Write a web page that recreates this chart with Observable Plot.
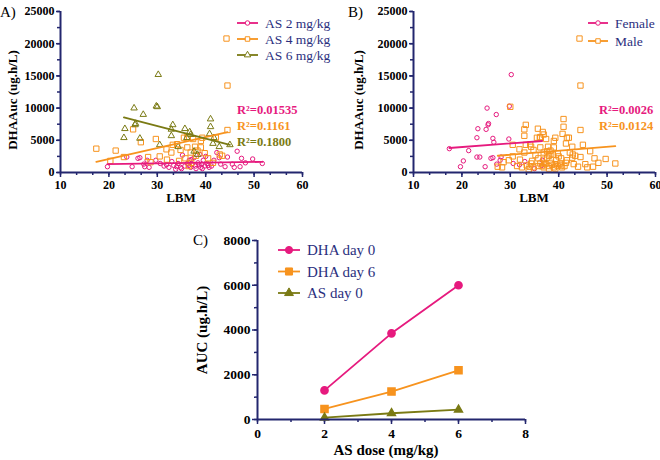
<!DOCTYPE html>
<html><head><meta charset="utf-8">
<script src="https://cdn.jsdelivr.net/npm/d3@7"></script>
<script src="https://cdn.jsdelivr.net/npm/@observablehq/plot@0.6"></script>
<style>
body{margin:0;background:#fff;}
#fig{position:relative;width:660px;height:460px;overflow:hidden;background:#fff;}
.panel{position:absolute;}
.panel svg{overflow:visible;}
</style></head><body><div id="fig"></div>
<script>
const PINK = "#e61a7e", ORANGE = "#f7931e", OLIVE = "#7a7a14", NAVY = "#23266e", LEG = "#2b2f7e";
const SERIF = '"Liberation Serif","Times New Roman",serif';

// ---- Panels A & B: [LBM, DHA AUC (ug.h/L), sex]
const as2mgkg = [
  [19.7,900,"F"],[23.7,2400,"F"],[24.8,900,"F"],[26.0,2200,"F"],[26.4,2300,"F"],[27.2,1300,"F"],
  [27.9,1900,"F"],[27.4,900,"M"],[28.3,800,"M"],[29.7,1900,"M"],[30.6,1400,"F"],[31.4,1000,"M"],
  [31.9,1200,"F"],[32.4,800,"M"],[33.0,1700,"F"],[33.4,1100,"M"],[33.8,500,"M"],[34.0,900,"M"],
  [34.3,1400,"M"],[34.8,800,"M"],[35.0,600,"F"],[35.2,2700,"M"],[35.7,1000,"M"],[36.2,1400,"M"],
  [36.5,1100,"F"],[36.6,1900,"F"],[36.9,800,"M"],[37.0,2000,"M"],[37.2,1300,"M"],[37.6,2300,"M"],
  [37.9,1000,"M"],[38.0,600,"M"],[38.4,1500,"M"],[38.6,1200,"M"],[38.8,2800,"M"],[39.0,800,"M"],
  [39.2,1300,"M"],[39.3,600,"M"],[39.5,1900,"M"],[39.8,1000,"M"],[40.0,2500,"M"],[40.3,1400,"M"],
  [40.5,1100,"M"],[40.7,800,"M"],[41.2,1000,"M"],[41.7,1900,"M"],[42.3,3100,"M"],[42.8,2300,"M"],
  [43.1,1300,"M"],[44.0,900,"M"],[44.5,2400,"M"],[45.5,1300,"M"],[45.9,800,"M"],[46.5,3300,"M"],
  [47.1,900,"M"],[47.4,2200,"M"],[48.2,1500,"M"],[49.7,2100,"M"],[51.7,1400,"M"]
];
const as4mgkg = [
  [17.4,3700,"F"],[20.3,1800,"F"],[21.4,3400,"F"],[23.1,2400,"F"],[25.0,6700,"F"],[26.6,4700,"F"],
  [28.1,2400,"F"],[28.6,1600,"M"],[29.7,5200,"F"],[30.5,2500,"M"],[31.9,3600,"M"],[32.0,2000,"M"],
  [32.9,3100,"M"],[33.2,4300,"M"],[34.1,4400,"M"],[34.5,1800,"M"],[34.8,3500,"M"],[35.5,5400,"M"],
  [35.8,2200,"M"],[36.2,5500,"M"],[36.2,3900,"M"],[36.5,1000,"M"],[36.9,3100,"M"],[37.0,1500,"M"],
  [37.4,5200,"M"],[37.8,4000,"M"],[38.0,2600,"M"],[38.3,3400,"M"],[39.0,4900,"M"],[39.0,3900,"M"],
  [39.3,5400,"M"],[39.8,3000,"M"],[40.5,2200,"M"],[41.5,1500,"M"],[42.1,5400,"M"],[42.9,2800,"M"],
  [43.4,2600,"M"],[44.3,20800,"M"],[44.5,13500,"M"],[44.5,6600,"M"]
];
const as6mgkg = [
  [23.1,5400,"F"],[23.3,6800,"F"],[25.2,10000,"F"],[25.4,7400,"F"],[25.5,7600,"F"],[26.4,5300,"F"],
  [27.1,9000,"F"],[29.8,10300,"F"],[30.0,10200,"M"],[30.2,15200,"F"],[30.5,4300,"M"],[32.9,5700,"M"],
  [32.9,6700,"M"],[33.2,7400,"M"],[34.3,4000,"M"],[35.7,6800,"M"],[36.1,5400,"M"],[36.7,6300,"M"],
  [36.9,5900,"M"],[37.6,3300,"M"],[38.3,2800,"M"],[40.8,6000,"M"],[41.0,7100,"M"],[41.0,8300,"M"],
  [41.5,4500,"M"],[41.7,5400,"M"],[42.8,4000,"M"],[45.0,4300,"M"]
];
const groupNames = ["AS 2 mg/kg", "AS 4 mg/kg", "AS 6 mg/kg"];
const groupSlopes = [11, 170, -194.6];
const groupIntercepts = [1083, -1308, 13045];
const groupR2 = ["0.01535", "0.1161", "0.1800"];

const sexCodes = ["F", "M"];
const sexNames = ["Female", "Male"];
const sexSlopes = [56.7, 61];
const sexIntercepts = [2819, 929];
const sexR2 = ["0.0026", "0.0124"];

const lbmTicks = [10, 20, 30, 40, 50, 60];
const aucTicks = [0, 5000, 10000, 15000, 20000, 25000];

// ---- Panel C
const doses = [2, 4, 6];
const dhaDay0 = [1300, 3850, 6000];
const dhaDay6 = [470, 1250, 2200];
const asDay0 = [80, 280, 440];
const seriesC = ["DHA day 0", "DHA day 6", "AS day 0"];
const doseTicks = [0, 2, 4, 6, 8];
const aucCTicks = [0, 2000, 4000, 6000, 8000];

// ------------------------------------------------------------------
const fig = d3.select("#fig");
const rec = (arr, g) => arr.map(([lbm, auc, sex]) => ({lbm, auc, sex, group: g}));
const pts = [...rec(as2mgkg, 0), ...rec(as4mgkg, 1), ...rec(as6mgkg, 2)];
function fitLine(data, slope, intercept) {
  const [a, b] = d3.extent(data, d => d.lbm);
  return [{lbm: a, auc: slope * a + intercept}, {lbm: b, auc: slope * b + intercept}];
}
function axisMarks(dim, major, minor, {size = 5, minorSize = 3, pad = 3, fontSize = 12} = {}) {
  const ax = dim === "x" ? Plot.axisX : Plot.axisY;
  return [
    ax({ticks: minor, tickSize: minorSize, tickFormat: () => "", stroke: NAVY, strokeWidth: 1.5, label: null}),
    ax({ticks: major, tickSize: size, tickFormat: () => "", stroke: NAVY, strokeWidth: 1.5, label: null}),
    ax({ticks: major, tickSize: 0, tickPadding: size + pad, tickFormat: d3.format("d"), fill: "black",
        fontWeight: "bold", fontSize, fontFamily: SERIF, label: null})
  ];
}
function place(svg, left, top) {
  const div = fig.append("div").attr("class", "panel").style("left", left + "px").style("top", top + "px");
  div.node().appendChild(svg);
  return d3.select(svg);
}
function legend(svg, items, x0, y0, dy, fontSize, lineLen) {
  items.forEach((it, i) => {
    const y = y0 + i * dy;
    svg.append("line").attr("x1", x0).attr("x2", x0 + lineLen).attr("y1", y).attr("y2", y)
      .attr("stroke", it.color).attr("stroke-width", 1.8);
    svg.append("path").attr("transform", `translate(${x0 + lineLen / 2},${y})`)
      .attr("d", d3.symbol(it.symbol, it.size)())
      .attr("fill", it.filled ? it.color : "white").attr("stroke", it.color).attr("stroke-width", 1);
    svg.append("text").attr("x", x0 + lineLen + 7).attr("y", y).attr("dy", "0.35em")
      .attr("text-anchor", "start")
      .attr("fill", LEG).attr("font-family", SERIF).attr("font-size", fontSize).text(it.label);
  });
}
function label(svg, x, y, txt, {size = 13, weight = "bold", color = "black", rotate = false, anchor = "middle"} = {}) {
  const t = svg.append("text").attr("font-family", SERIF).attr("font-size", size).attr("font-weight", weight)
    .attr("fill", color).attr("text-anchor", anchor).text(txt);
  if (rotate) t.attr("transform", `translate(${x},${y}) rotate(-90)`).attr("dy", "0.35em");
  else t.attr("x", x).attr("y", y);
  return t;
}
const lbmMinor = d3.range(10, 60.01, 10 / 3);
const aucMinor = d3.range(0, 25001, 2500);
const symA = ["circle", "square", "triangle"];
const rA = [2.2, 3.0, 2.4];
const colA = [PINK, ORANGE, OLIVE];

function scatterBase(marginLeft, marginRight) {
  return {
    width: 330, height: 205, marginLeft, marginRight, marginTop: 11, marginBottom: 33,
    x: {domain: [10, 60]}, y: {domain: [0, 25000]},
    style: {fontFamily: SERIF, background: "transparent", overflow: "visible"}
  };
}

// ---------------- Panel A
{
  const marks = [
    ...axisMarks("x", lbmTicks, lbmMinor),
    ...axisMarks("y", aucTicks, aucMinor, {size: 4, pad: 2})
  ];
  [0, 1, 2].forEach(g => marks.push(Plot.dot(pts.filter(d => d.group === g),
    {x: "lbm", y: "auc", symbol: symA[g], r: rA[g], stroke: colA[g], fill: "none", strokeWidth: 1})));
  [0, 1, 2].forEach(g => marks.push(Plot.line(fitLine(pts.filter(d => d.group === g), groupSlopes[g], groupIntercepts[g]),
    {x: "lbm", y: "auc", stroke: colA[g], strokeWidth: 1.8})));
  marks.push(Plot.ruleY([0], {stroke: NAVY, strokeWidth: 2}), Plot.ruleX([10], {stroke: NAVY, strokeWidth: 2}));
  const svg = place(Plot.plot({...scatterBase(60, 28), marks}), 0, 0);
  legend(svg, groupNames.map((n, g) => ({label: n, color: colA[g], symbol: [d3.symbolCircle, d3.symbolSquare, d3.symbolTriangle][g],
    size: [16, 20, 18][g], filled: false})), 237, 23, 16, 13.5, 21);
  groupR2.forEach((r, g) => label(svg, 237, 114 + g * 16, "R²=" + r, {size: 12.5, color: colA[g], anchor: "start"}));
  label(svg, 0, 17, "A)", {size: 15, weight: "normal", anchor: "start"});
  label(svg, 12, 100, "DHAAuc (ug.h/L)", {size: 13, rotate: true});
  label(svg, 181, 202, "LBM", {size: 13});
}

// ---------------- Panel B
{
  const colB = [PINK, ORANGE], symB = ["circle", "square"], rB = [2.2, 3.0];
  const marks = [
    ...axisMarks("x", lbmTicks, lbmMinor),
    ...axisMarks("y", aucTicks, aucMinor, {size: 4, pad: 2})
  ];
  [0, 1].forEach(s => marks.push(Plot.dot(pts.filter(d => d.sex === sexCodes[s]),
    {x: "lbm", y: "auc", symbol: symB[s], r: rB[s], stroke: colB[s], fill: "none", strokeWidth: 1})));
  [0, 1].forEach(s => marks.push(Plot.line(fitLine(pts.filter(d => d.sex === sexCodes[s]), sexSlopes[s], sexIntercepts[s]),
    {x: "lbm", y: "auc", stroke: colB[s], strokeWidth: 1.8})));
  marks.push(Plot.ruleY([0], {stroke: NAVY, strokeWidth: 2}), Plot.ruleX([10], {stroke: NAVY, strokeWidth: 2}));
  const svg = place(Plot.plot({...scatterBase(83, 5), marks}), 330, 0);
  legend(svg, sexNames.map((n, s) => ({label: n, color: colB[s], symbol: [d3.symbolCircle, d3.symbolSquare][s],
    size: [16, 20][s], filled: false})), 258, 23, 18, 13.5, 20);
  sexR2.forEach((r, s) => label(svg, 269, 114 + s * 16, "R²=" + r, {size: 12.5, color: colB[s], anchor: "start"}));
  label(svg, 18, 17, "B)", {size: 15, weight: "normal", anchor: "start"});
  label(svg, 28, 100, "DHAAuc (ug.h/L)", {size: 13, rotate: true});
  label(svg, 204, 202, "LBM", {size: 13});
}

// ---------------- Panel C
{
  const colC = [PINK, ORANGE, OLIVE], symC = ["circle", "square", "triangle"], rC = [3.6, 4.0, 2.9];
  const valsC = [dhaDay0, dhaDay6, asDay0];
  const rows = seriesC.flatMap((s, i) => doses.map((d, j) => ({series: i, dose: d, auc: valsC[i][j]})));
  const marks = [
    ...axisMarks("x", doseTicks, d3.range(0, 8.01, 1), {size: 5, pad: 4, fontSize: 13.5}),
    ...axisMarks("y", aucCTicks, d3.range(0, 8001, 1000), {size: 5, pad: 2, fontSize: 13.5})
  ];
  [0, 1, 2].forEach(i => {
    const data = rows.filter(d => d.series === i);
    marks.push(Plot.line(data, {x: "dose", y: "auc", stroke: colC[i], strokeWidth: 1.8}));
    marks.push(Plot.dot(data, {x: "dose", y: "auc", symbol: symC[i], r: rC[i], fill: colC[i], stroke: colC[i]}));
  });
  marks.push(Plot.ruleY([0], {stroke: NAVY, strokeWidth: 2}), Plot.ruleX([0], {stroke: NAVY, strokeWidth: 2}));
  const svg = place(Plot.plot({
    width: 345, height: 235, marginLeft: 67, marginRight: 10, marginTop: 15, marginBottom: 41,
    x: {domain: [0, 8]}, y: {domain: [0, 8000]},
    style: {fontFamily: SERIF, background: "transparent", overflow: "visible"}, marks
  }), 190, 225);
  legend(svg, seriesC.map((n, i) => ({label: n, color: colC[i], symbol: [d3.symbolCircle, d3.symbolSquare, d3.symbolTriangle][i],
    size: [40, 50, 34][i], filled: true})), 88, 25, 21.5, 15, 22);
  label(svg, 3, 20, "C)", {size: 15, weight: "normal", anchor: "start"});
  label(svg, 12, 105, "AUC (ug.h/L)", {size: 15, rotate: true});
  label(svg, 196, 230, "AS dose (mg/kg)", {size: 15});
}
</script></body></html>
